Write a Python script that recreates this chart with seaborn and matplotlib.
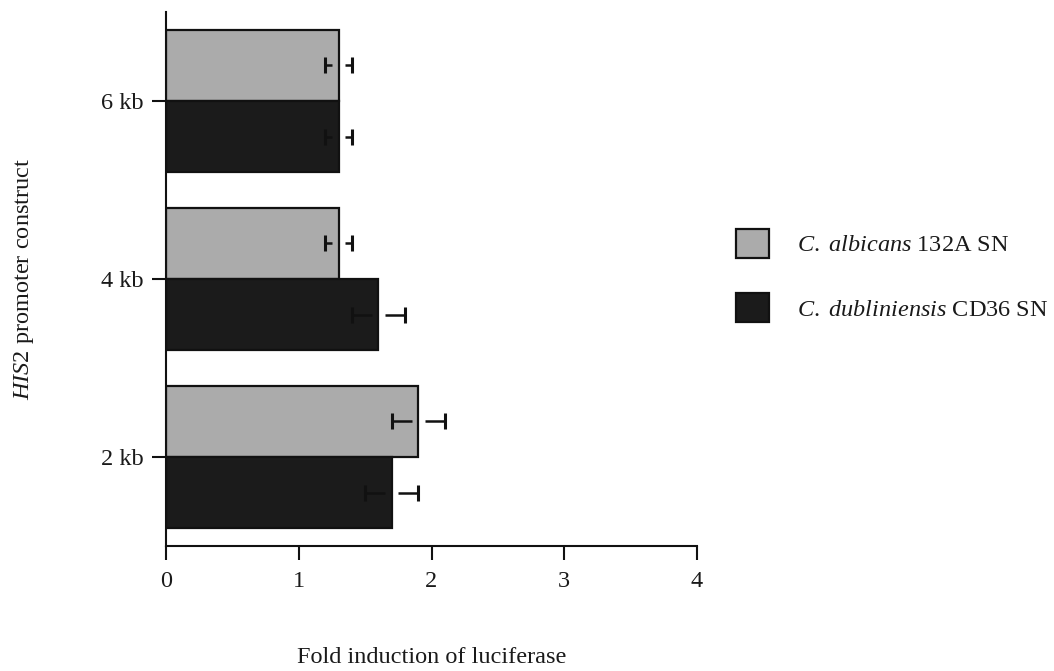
import matplotlib
matplotlib.use("Agg")
import matplotlib.pyplot as plt
import matplotlib.patches as mpatches
import seaborn as sns
import pandas as pd

# ---- data ----
constructs = ["6 kb", "4 kb", "2 kb"]
strains = ["C. albicans 132A SN", "C. dubliniensis CD36 SN"]
albicans_fold = [1.3, 1.3, 1.9]
albicans_err = [0.1, 0.1, 0.2]
dubliniensis_fold = [1.3, 1.6, 1.7]
dubliniensis_err = [0.1, 0.2, 0.2]
x_ticks = [0, 1, 2, 3, 4]

legend_labels = [r"$\mathit{C.\ albicans}$ 132A SN",
                 r"$\mathit{C.\ dubliniensis}$ CD36 SN"]
colors = ["#ababab", "#1b1b1b"]

df = pd.DataFrame({
    "construct": constructs * 2,
    "strain": [strains[0]] * 3 + [strains[1]] * 3,
    "fold": albicans_fold + dubliniensis_fold,
})
errs = {strains[0]: albicans_err, strains[1]: dubliniensis_err}

sns.set_style("ticks")
plt.rcParams["font.family"] = ["Liberation Serif", "DejaVu Serif"]
plt.rcParams["mathtext.fontset"] = "custom"
plt.rcParams["mathtext.rm"] = "Liberation Serif"
plt.rcParams["mathtext.it"] = "Liberation Serif:italic"

FS = 17.5
fig = plt.figure(figsize=(10.54, 6.71), dpi=100)
ax = fig.add_axes([166 / 1054, 1 - 546 / 671, (697 - 166) / 1054, (546 - 12) / 671])

sns.barplot(data=df, y="construct", x="fold", hue="strain",
            order=constructs, hue_order=strains, palette=colors,
            orient="h", errorbar=None, width=0.8, dodge=True,
            edgecolor="#111111", linewidth=1.6, saturation=1,
            legend=False, ax=ax)

# error bars: short stubs with a small gap at the bar end, plus caps
gap = 0.05
for strain, cont in zip(strains, ax.containers):
    for p in cont:
        v = p.get_width()
        yc = p.get_y() + p.get_height() / 2
        ci = int(round(yc))
        e = errs[strain][ci]
        ax.hlines([yc, yc], [v + gap, v - e], [v + e, v - gap],
                  color="#111111", lw=1.8, zorder=5)
        ax.plot([v - e, v + e], [yc, yc], ls="none", marker="|",
                ms=12, mew=2.2, color="#111111", zorder=5)

ax.set_xlim(0, 4)
ax.set_ylim(2.5, -0.5)
ax.set_xticks(x_ticks)
ax.set_xticklabels([str(t) for t in x_ticks])
sns.despine(ax=ax)
for s in ("left", "bottom"):
    ax.spines[s].set_linewidth(1.5)
    ax.spines[s].set_color("#111111")
ax.tick_params(axis="both", direction="out", length=10, width=1.5,
               color="#111111", labelsize=FS, labelcolor="#1a1a1a")
ax.tick_params(axis="x", pad=8)
ax.tick_params(axis="y", pad=6)

ax.set_xlabel("Fold induction of luciferase", fontsize=FS, color="#1a1a1a")
ax.xaxis.set_label_coords(0.5, -0.19)
ax.set_ylabel(r"$\mathit{HIS}$2 promoter construct", fontsize=FS, color="#1a1a1a")
ax.yaxis.set_label_coords(-0.245, 0.5)

handles = [mpatches.Patch(facecolor=c, edgecolor="#111111", linewidth=1.6)
           for c in colors]
fig.legend(handles, legend_labels, loc="upper left",
           bbox_to_anchor=(736 / 1054, 1 - 229 / 671),
           frameon=False, fontsize=FS, handlelength=1.35, handleheight=1.45,
           handletextpad=1.15, labelspacing=1.45, borderpad=0,
           borderaxespad=0, labelcolor="#1a1a1a")

fig.savefig("out.png", dpi=100, facecolor="white")
